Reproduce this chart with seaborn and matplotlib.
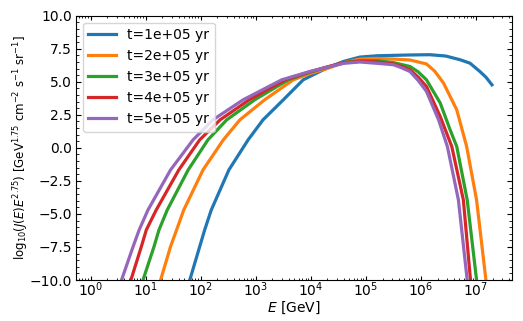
import numpy as np
import pandas as pd
import matplotlib
matplotlib.use("Agg")
import matplotlib.pyplot as plt
import seaborn as sns
from matplotlib.ticker import AutoMinorLocator, LogLocator, NullFormatter

# log10(E/GeV) and log10(J E^2.75), one pair of lists per age
labels = ["t=1e+05 yr", "t=2e+05 yr", "t=3e+05 yr", "t=4e+05 yr", "t=5e+05 yr"]

logE_1 = [1.80, 1.98, 2.07, 2.19, 2.51, 2.86, 3.13, 3.50, 3.86, 3.98, 4.29, 4.6, 4.89,
          5.2, 5.5, 5.8, 6.16, 6.45, 6.71, 6.89, 7.07, 7.18, 7.29]
flux_1 = [-10.0, -7.47, -6.21, -4.7, -1.67, 0.61, 2.12, 3.64, 5.15, 5.40, 6.04, 6.55, 6.87,
          6.97, 7.0, 7.03, 7.05, 6.95, 6.67, 6.41, 5.78, 5.35, 4.77]

logE_2 = [1.27, 1.45, 1.56, 1.69, 2.04, 2.41, 2.71, 3.16, 3.68, 3.98, 4.29, 4.6, 4.89,
          5.19, 5.5, 5.8, 6.1, 6.25, 6.41, 6.65, 6.83, 7.01, 7.18]
flux_2 = [-10.0, -7.47, -6.21, -4.7, -1.67, 0.61, 2.12, 3.64, 5.15, 5.62, 6.0, 6.45, 6.72,
          6.77, 6.72, 6.65, 6.35, 5.8, 4.9, 2.88, 0.1, -3.94, -10.0]

logE_3 = [0.95, 1.15, 1.24, 1.39, 1.77, 2.13, 2.47, 2.98, 3.59, 3.98, 4.29, 4.6, 4.89,
          5.2, 5.5, 5.8, 5.95, 6.10, 6.35, 6.53, 6.65, 6.84, 7.01]
flux_3 = [-10.0, -7.47, -6.21, -4.7, -1.67, 0.61, 2.12, 3.64, 5.15, 5.72, 6.1, 6.45, 6.6,
          6.6, 6.45, 6.16, 5.75, 5.15, 3.39, 1.36, 0.1, -3.94, -10.0]

logE_4 = [0.73, 0.92, 1.01, 1.19, 1.60, 1.98, 2.35, 2.88, 3.53, 3.98, 4.29, 4.6, 4.89,
          5.2, 5.5, 5.62, 5.8, 5.95, 6.10, 6.35, 6.56, 6.77, 6.90]
flux_4 = [-10.0, -7.47, -6.21, -4.7, -1.67, 0.61, 2.12, 3.64, 5.15, 5.75, 6.12, 6.45, 6.55,
          6.5, 6.35, 6.2, 5.91, 5.35, 4.64, 2.37, 0.1, -3.94, -10.0]

logE_5 = [0.56, 0.77, 0.88, 1.04, 1.45, 1.86, 2.22, 2.77, 3.47, 3.98, 4.29, 4.6, 4.89,
          5.2, 5.5, 5.62, 5.8, 5.95, 6.10, 6.32, 6.48, 6.68, 6.84]
flux_5 = [-10.0, -7.47, -6.21, -4.7, -1.67, 0.61, 2.12, 3.64, 5.15, 5.78, 6.1, 6.4, 6.5,
          6.4, 6.29, 6.11, 5.78, 5.1, 4.27, 2.12, 0.1, -3.94, -10.0]

rows = []
for lab, le, fl in zip(labels, [logE_1, logE_2, logE_3, logE_4, logE_5],
                       [flux_1, flux_2, flux_3, flux_4, flux_5]):
    for a, b in zip(le, fl):
        rows.append({"E": 10.0 ** a, "flux": b, "t": lab})
df = pd.DataFrame(rows)

fig = plt.figure(figsize=(5.23, 3.21), dpi=100)
ax = fig.add_axes([0.1453, 0.1277, 0.8331, 0.8233])

sns.lineplot(data=df, x="E", y="flux", hue="t", hue_order=labels,
             palette="tab10", estimator=None, sort=True, lw=2.3, ax=ax)

ax.set_xscale("log")
ax.set_xlim(0.54, 4.45e7)
ax.set_ylim(-10, 10)
ax.set_yticks(np.arange(-10, 10.1, 2.5))
ax.yaxis.set_minor_locator(AutoMinorLocator(5))
ax.xaxis.set_major_locator(LogLocator(base=10, numticks=20))
ax.xaxis.set_minor_locator(LogLocator(base=10, subs=np.arange(2, 10), numticks=20))
ax.xaxis.set_minor_formatter(NullFormatter())
ax.tick_params(which="both", direction="in", top=True, right=True, labelsize=10)
ax.tick_params(axis="x", which="major", length=2.8, pad=0.5)
ax.tick_params(axis="x", which="minor", length=1.5)
ax.tick_params(axis="y", which="major", pad=3)

ax.set_xlabel("$E$ [GeV]", fontsize=10, labelpad=0)
ax.set_ylabel(r"log$_{10}$($J(E)E^{2.75}$) [GeV$^{1.75}$ cm$^{-2}$ s$^{-1}$ sr$^{-1}$]",
              fontsize=8.5)
ax.yaxis.set_label_coords(-0.104, 0.5)

ax.legend(loc="upper left", fontsize=10, title=None)

fig.savefig("out.png", dpi=100)
